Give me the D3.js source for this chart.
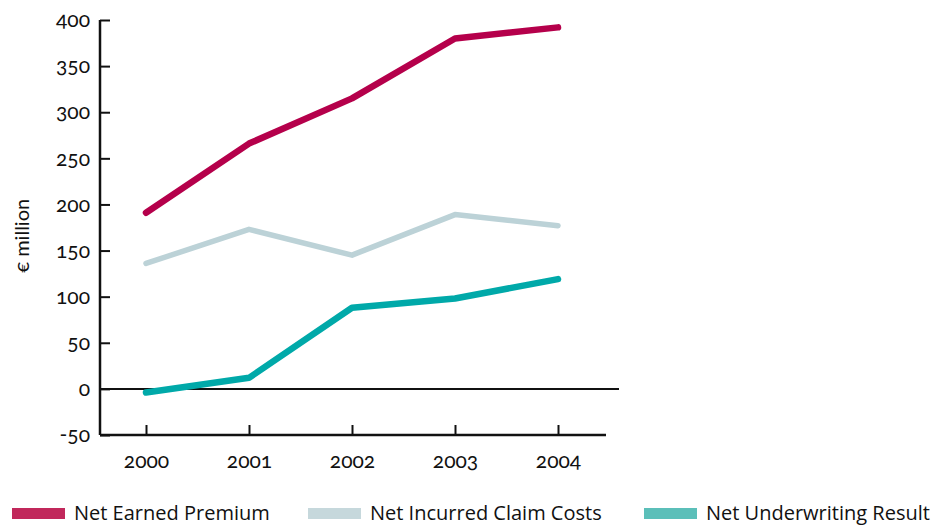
<!DOCTYPE html>
<html>
<head>
<meta charset="utf-8">
<script src="https://cdn.jsdelivr.net/npm/d3@7"></script>
<style>
  body { margin: 0; background: #fff; }
  svg text { font-family: Lato, "Open Sans", sans-serif; font-variant-numeric: oldstyle-nums; font-feature-settings: "onum" 1; fill: #111; }
  .legend text { font-family: "Open Sans", sans-serif; font-variant-numeric: normal; font-feature-settings: normal; }
</style>
</head>
<body>
<div id="chart"></div>
<script>
// data
const years = ["2000", "2001", "2002", "2003", "2004"];
const netEarnedPremium = [191, 266, 315, 380, 392];
const netIncurredClaims = [136, 173, 145, 189, 177];
const netUnderwriting = [-4, 12, 88, 98, 119];
const yTicks = [-50, 0, 50, 100, 150, 200, 250, 300, 350, 400];

const seriesNames = ["Net Earned Premium", "Net Incurred Claim Costs", "Net Underwriting Result"];
const lineColors = ["#b5004b", "#bcd2d7", "#00a9a9"];
const swatchColors = ["#c1285b", "#c6d8dc", "#5bbfb9"];

const WIDTH = 948, HEIGHT = 526;

const svg = d3.select("#chart").append("svg")
  .attr("width", WIDTH).attr("height", HEIGHT);

const x = d3.scalePoint().domain(years).range([146, 558]);
const y = d3.scaleLinear().domain([-50, 400]).range([435, 20]);

// y axis, ticks pointing inward
const yAxis = svg.append("g").attr("transform", "translate(100,0)")
  .call(d3.axisRight(y).tickValues(yTicks).tickSize(10).tickFormat(d => d).tickSizeOuter(0));
yAxis.select(".domain").remove();
yAxis.selectAll(".tick line").attr("stroke", "#111").attr("stroke-width", 2);
yAxis.selectAll(".tick text").attr("x", -10).attr("text-anchor", "end")
  .attr("font-size", 21).attr("dy", "0.32em");
yAxis.append("line").attr("x1", 0).attr("x2", 0)
  .attr("y1", y(400)).attr("y2", y(-50)).attr("stroke", "#111").attr("stroke-width", 2.5);

// bottom axis
const xAxis = svg.append("g").attr("transform", `translate(0,${y(-50)})`)
  .call(d3.axisTop(x).tickSize(10).tickSizeOuter(0));
xAxis.select(".domain").remove();
xAxis.append("line").attr("x1", 100).attr("x2", 606).attr("stroke", "#111").attr("stroke-width", 2.5);
xAxis.selectAll(".tick line").attr("stroke", "#111").attr("stroke-width", 2);
xAxis.selectAll(".tick text").attr("y", 33).attr("dy", 0).attr("font-size", 21);

// zero line
svg.append("line").attr("x1", 100).attr("x2", 619)
  .attr("y1", y(0)).attr("y2", y(0)).attr("stroke", "#111").attr("stroke-width", 2);

// y label
svg.append("text")
  .attr("transform", `translate(29,${y(166)}) rotate(-90)`)
  .attr("text-anchor", "middle").attr("font-size", 20)
  .text("€ million");

const line = d3.line().x((d, i) => x(years[i])).y(d => y(d));
const allSeries = [netEarnedPremium, netIncurredClaims, netUnderwriting];
svg.selectAll("path.series").data(allSeries).enter().append("path")
  .attr("class", "series")
  .attr("d", line)
  .attr("fill", "none")
  .attr("stroke", (d, i) => lineColors[i])
  .attr("stroke-width", (d, i) => i == 1 ? 5.5 : 6.5)
  .attr("stroke-linecap", "round")
  .attr("stroke-linejoin", "round");

// legend
const legendX = [12, 308, 644];
const legend = svg.append("g").attr("class", "legend");
const items = legend.selectAll("g").data(seriesNames).enter().append("g")
  .attr("transform", (d, i) => `translate(${legendX[i]},0)`);
items.append("rect").attr("x", 0).attr("y", 508).attr("width", 53).attr("height", 11)
  .attr("fill", (d, i) => swatchColors[i]);
items.append("text").attr("x", 62).attr("y", 520).attr("font-size", 20).text(d => d);
</script>
</body>
</html>
